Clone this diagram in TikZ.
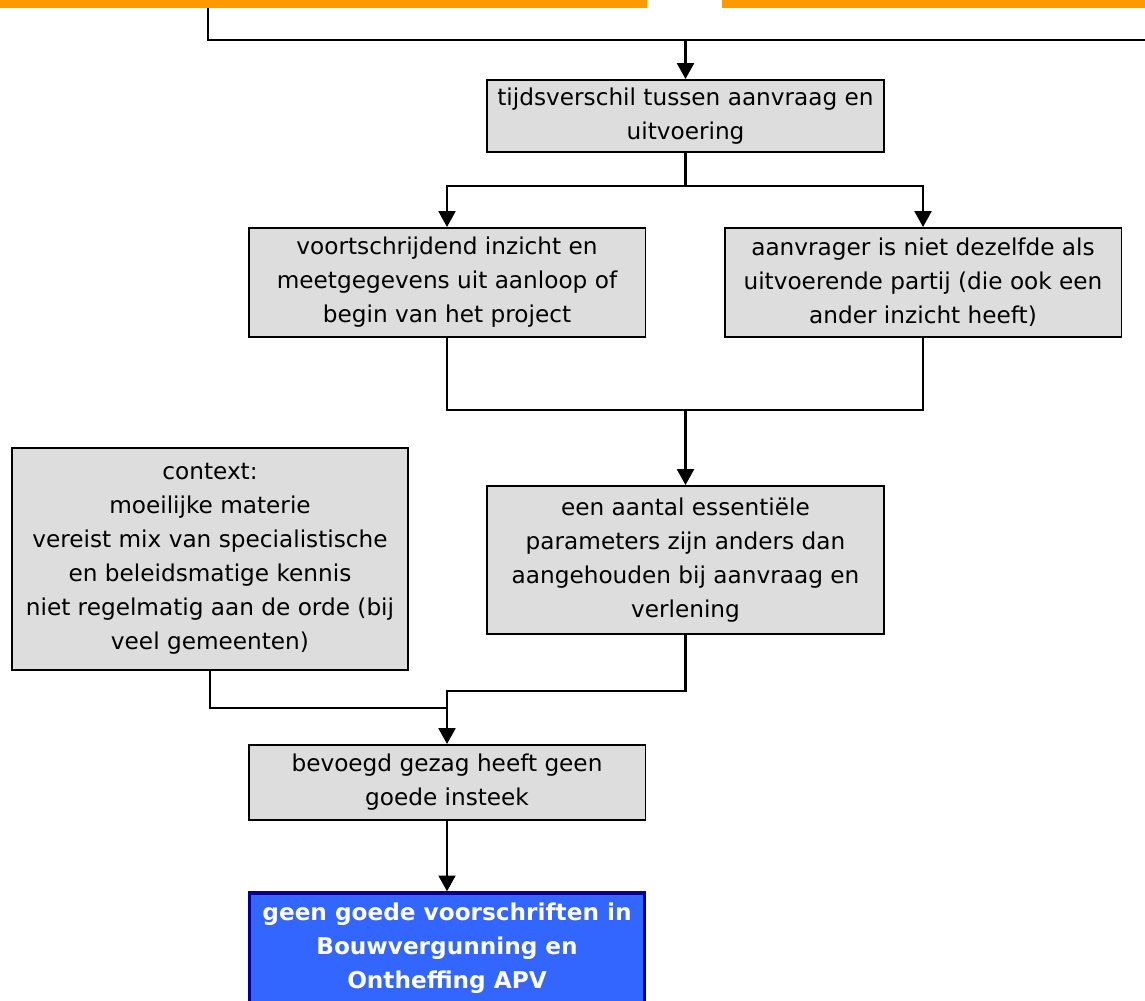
\documentclass[tikz,border=0pt]{standalone}
\usepackage{fontspec}
\setmainfont{DejaVu Sans}
\usetikzlibrary{arrows.meta}
\definecolor{kader}{HTML}{DDDDDD}
\definecolor{oranje}{HTML}{FF9900}
\definecolor{blauw}{HTML}{3366FF}
\definecolor{marine}{HTML}{000099}
\begin{document}
\begin{tikzpicture}[x=0.02cm,y=-0.02cm,
  oorzaak/.style={draw,line width=1.1pt,fill=kader,align=center,minimum width=7.94cm,inner sep=2pt,font=\fontsize{13.2}{19.3}\selectfont},
  gevolgbox/.style={draw=marine,line width=1.9pt,fill=blauw,text=white,align=center,minimum width=7.9cm,font=\fontsize{13.2}{19.3}\selectfont\bfseries},
  lijn/.style={line width=1.6pt},
  pijl/.style={line width=1.6pt,-{Triangle[width=9.5pt,length=9pt]}}]
\useasboundingbox (0,0) rectangle (1145,1000);
% bronnen boven (afgesneden)
\node[fill=oranje,minimum width=12.94cm,minimum height=1cm,inner sep=0,anchor=south west] (bronL) at (0,8) {};
\node[fill=oranje,minimum width=8.46cm,minimum height=1cm,inner sep=0,anchor=south west] (bronR) at (722,8) {};
% oorzaken
\node[oorzaak,minimum height=1.44cm] (tijd) at (685.5,116) {tijdsverschil tussen aanvraag en\\uitvoering};
\node[oorzaak,minimum height=2.18cm] (inzicht) at (447,282.5) {voortschrijdend inzicht en\\meetgegevens uit aanloop of\\begin van het project};
\node[oorzaak,minimum height=2.18cm] (partij) at (923,282.5) {aanvrager is niet dezelfde als\\uitvoerende partij (die ook een\\ander inzicht heeft)};
\node[oorzaak,minimum height=2.96cm] (parameters) at (685.5,560) {een aantal essenti\"ele\\parameters zijn anders dan\\aangehouden bij aanvraag en\\verlening};
\node[oorzaak,minimum width=7.92cm,minimum height=4.44cm] (context) at (210,559) {context:\\moeilijke materie\\vereist mix van specialistische\\en beleidsmatige kennis\\niet regelmatig aan de orde (bij\\veel gemeenten)};
\node[oorzaak,minimum height=1.5cm] (bevoegd) at (447,782.5) {bevoegd gezag heeft geen\\goede insteek};
\node[gevolgbox,minimum height=2.2cm] (gevolg) at (447,948) {geen goede voorschriften in\\Bouwvergunning en\\Ontheffing APV};
% verbindingen
\coordinate (rechts) at (1150,40);
\draw[lijn] (208,8) |- (rechts);
\draw[pijl] (tijd.north |- rechts) -- (tijd.north);
\draw[lijn] (tijd.south) -- ++(0,33) coordinate (splitsen);
\draw[pijl] (splitsen) -| (inzicht.north);
\draw[pijl] (splitsen) -| (partij.north);
\coordinate (samen) at (685.5,410);
\draw[lijn] (inzicht.south) |- (samen) -| (partij.south);
\draw[pijl] (samen) -- (parameters.north);
\coordinate (knoop) at (447,708);
\draw[pijl] (parameters.south) -- ++(0,56) -| (bevoegd.north);
\draw[lijn] (context.south) |- (knoop);
\draw[pijl] (bevoegd.south) -- (gevolg.north);
\end{tikzpicture}
\end{document}
